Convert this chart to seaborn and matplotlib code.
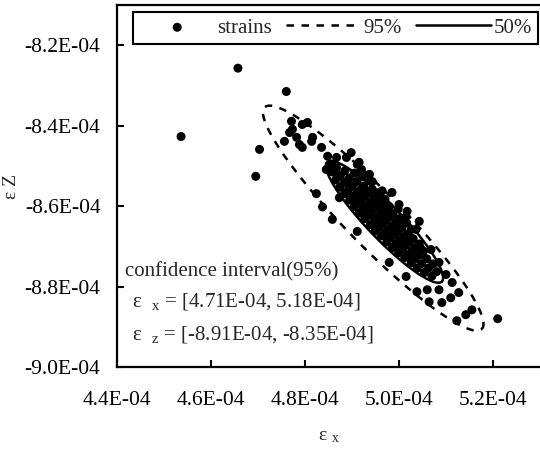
import numpy as np
import pandas as pd
import seaborn as sns
import matplotlib.pyplot as plt
from matplotlib.ticker import FuncFormatter

# strain values, in units of 1E-04
strain_x = [
    # isolated points
    4.536, 4.657, 4.760, 4.703, 4.695, 4.824, 5.210,
    # upper-left group
    4.771, 4.773, 4.767, 4.794, 4.805, 4.782, 4.756, 4.788, 4.794, 4.816,
    4.814, 4.835, 4.848, 4.867, 4.888, 4.856, 4.845, 4.869, 4.888,
    # upper side
    4.898, 4.915, 4.920, 4.937, 4.943, 4.958, 4.985, 5.000, 5.017, 5.043,
    4.911, 5.015, 5.036, 5.068, 5.085,
    # lower side
    4.873, 4.837, 4.858, 4.911, 4.979, 5.015,
    # lower-right group
    5.100, 5.113, 5.127, 5.110, 5.091, 5.064, 5.038, 5.060, 5.155, 5.142,
    5.123, 5.085,
    # dense core (inside the 50% ellipse)
    4.858, 4.867,
    4.865, 4.875, 4.885,
    4.874, 4.883, 4.894, 4.905,
    4.884, 4.892, 4.901, 4.910, 4.921,
    4.895, 4.902, 4.910, 4.918, 4.925, 4.938,
    4.905, 4.913, 4.920, 4.928, 4.936, 4.943,
    4.915, 4.923, 4.930, 4.938, 4.946, 4.953, 4.964,
    4.927, 4.933, 4.941, 4.948, 4.956, 4.964, 4.970,
    4.939, 4.948, 4.956, 4.963, 4.971, 4.979,
    4.949, 4.957, 4.964, 4.972, 4.980, 4.987, 4.998,
    4.962, 4.970, 4.978, 4.985, 4.993, 5.001,
    4.974, 4.983, 4.991, 4.999, 5.006, 5.016,
    4.986, 4.993, 5.001, 5.009, 5.017, 5.026,
    4.999, 5.007, 5.014, 5.022, 5.030,
    5.012, 5.020, 5.028, 5.035, 5.043,
    5.026, 5.033, 5.043, 5.052,
    5.039, 5.048, 5.059,
    5.054, 5.063, 5.072,
    5.070, 5.080,
    4.907, 4.917, 4.928,
    4.930, 4.941, 4.952,
    4.954, 4.964, 4.975,
    4.977, 4.988, 4.999,
    5.001, 5.012, 5.022,
    5.024, 5.035, 5.046,
]
strain_z = [
    -8.427, -8.257, -8.315, -8.459, -8.526, -8.569, -8.880,
    -8.389, -8.409, -8.417, -8.397, -8.392, -8.429, -8.439, -8.447, -8.454, -8.429,
    -8.439, -8.454, -8.476, -8.479, -8.479, -8.496, -8.509, -8.526, -8.539,
    -8.467, -8.491, -8.509, -8.521, -8.539, -8.566, -8.566, -8.596, -8.613, -8.638,
    -8.496, -8.626, -8.658, -8.708, -8.740,
    -8.579, -8.602, -8.633, -8.663, -8.740, -8.775,
    -8.770, -8.790, -8.815, -8.828, -8.840, -8.838, -8.813, -8.808, -8.858, -8.870,
    -8.885, -8.808,
    -8.515, -8.505,
    -8.535, -8.524, -8.512,
    -8.553, -8.542, -8.530, -8.518,
    -8.569, -8.560, -8.550, -8.539, -8.527,
    -8.585, -8.576, -8.568, -8.559, -8.550, -8.537,
    -8.601, -8.592, -8.584, -8.575, -8.566, -8.558,
    -8.617, -8.608, -8.600, -8.591, -8.582, -8.574, -8.562,
    -8.631, -8.624, -8.616, -8.607, -8.599, -8.590, -8.583,
    -8.646, -8.635, -8.627, -8.618, -8.609, -8.601,
    -8.662, -8.653, -8.645, -8.636, -8.627, -8.619, -8.607,
    -8.674, -8.666, -8.657, -8.649, -8.640, -8.631,
    -8.689, -8.678, -8.670, -8.661, -8.653, -8.642,
    -8.703, -8.694, -8.686, -8.677, -8.669, -8.658,
    -8.716, -8.707, -8.698, -8.690, -8.681,
    -8.728, -8.720, -8.711, -8.703, -8.694,
    -8.741, -8.732, -8.722, -8.712,
    -8.754, -8.743, -8.731,
    -8.765, -8.754, -8.744,
    -8.774, -8.763,
    -8.585, -8.573, -8.561,
    -8.614, -8.602, -8.590,
    -8.642, -8.630, -8.618,
    -8.671, -8.659, -8.647,
    -8.700, -8.688, -8.676,
    -8.729, -8.717, -8.705,
]

# ellipses: centre and two conjugate semi-diameters (units of 1E-04)
ell95_center = [4.945, -8.630]
ell95_u = [0.2312, -0.2755]
ell95_v = [0.0405, 0.0490]
ell50_center = [4.969, -8.639]
ell50_u = [0.1220, -0.1487]
ell50_v = [0.0262, 0.0293]

x_ticks = [4.4, 4.6, 4.8, 5.0, 5.2]
z_ticks = [-9.0, -8.8, -8.6, -8.4, -8.2]

scale = 1e-4
df = pd.DataFrame({"ex": np.array(strain_x) * scale, "ez": np.array(strain_z) * scale})


def ellipse_df(center, u, v):
    t = np.linspace(0, 2 * np.pi, 300)
    ex = center[0] + u[0] * np.cos(t) + v[0] * np.sin(t)
    ez = center[1] + u[1] * np.cos(t) + v[1] * np.sin(t)
    return pd.DataFrame({"ex": ex * scale, "ez": ez * scale})


e95 = ellipse_df(ell95_center, ell95_u, ell95_v)
e50 = ellipse_df(ell50_center, ell50_u, ell50_v)

sns.set_style("white")
plt.rcParams["font.family"] = ["Liberation Serif", "DejaVu Serif"]
plt.rcParams["mathtext.default"] = "regular"

fig = plt.figure(figsize=(5.4, 4.57), dpi=100)
ax = fig.add_axes([0.217, 0.197, 0.783, 0.792])

sns.scatterplot(data=df, x="ex", y="ez", ax=ax, color="black", s=42,
                edgecolor="none", label="strains", zorder=3)
sns.lineplot(data=e95, x="ex", y="ez", ax=ax, sort=False, estimator=None,
             color="black", lw=1.8, linestyle=(0, (3, 3)), label="95%", zorder=4)
sns.lineplot(data=e50, x="ex", y="ez", ax=ax, sort=False, estimator=None,
             color="black", lw=1.8, label="50%", zorder=4)

ax.set_xlim(4.4 * scale, 5.3 * scale)
ax.set_ylim(-9.0 * scale, -8.1 * scale)
ax.set_xticks(np.array(x_ticks) * scale)
ax.set_yticks(np.array(z_ticks) * scale)
fmt = FuncFormatter(lambda v, p: f"{v:.1E}")
ax.xaxis.set_major_formatter(fmt)
ax.yaxis.set_major_formatter(fmt)
ax.tick_params(direction="in", length=5, width=1.5, labelsize=15.5, colors="black")
ax.tick_params(axis="x", pad=17)
ax.tick_params(axis="y", pad=12)
ax.xaxis.set_ticks_position("bottom")
ax.yaxis.set_ticks_position("left")

for side in ["left", "bottom", "top"]:
    ax.spines[side].set_color("black")
    ax.spines[side].set_linewidth(1.6)
ax.spines["right"].set_visible(False)

ax.set_xlabel("ε $_{x}$", fontsize=14, labelpad=13)
ax.set_ylabel("ε Z", fontsize=14, labelpad=3)

ax.text(0.019, 0.249, "confidence interval(95%)", transform=ax.transAxes,
        fontsize=15, va="baseline", ha="left")
ax.text(0.035, 0.166, "ε  $_{x}$ = [4.71E-04, 5.18E-04]", transform=ax.transAxes,
        fontsize=15, va="baseline", ha="left")
ax.text(0.035, 0.075, "ε  $_{z}$ = [-8.91E-04, -8.35E-04]", transform=ax.transAxes,
        fontsize=15, va="baseline", ha="left")

leg = ax.legend(loc="upper right", bbox_to_anchor=(0.995, 0.981), ncol=3,
                frameon=True, fancybox=False, fontsize=15, handlelength=3.6,
                handletextpad=0.1, columnspacing=0.7, borderpad=0.3,
                borderaxespad=0)
leg.get_frame().set_edgecolor("black")
leg.get_frame().set_linewidth(1.5)
leg.get_frame().set_alpha(1)

fig.savefig("out.png", dpi=100)
